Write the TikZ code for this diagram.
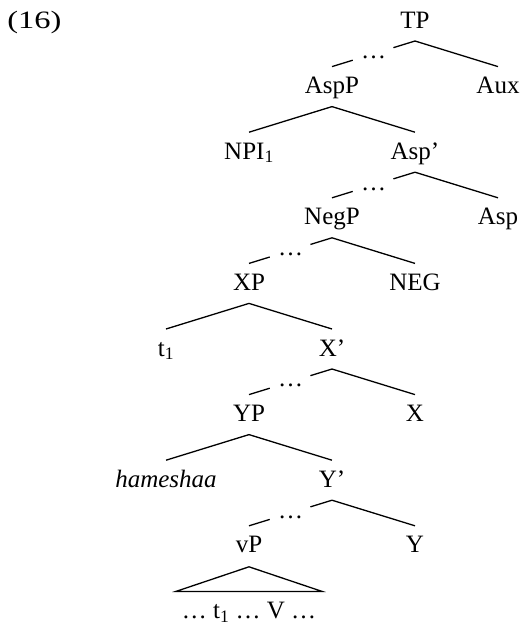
\documentclass[tikz,border=0pt]{standalone}
\usepackage{fontspec}
\setmainfont{Liberation Serif}
\usetikzlibrary{calc}
\newcommand\treebr[2]{%
  \draw[branch] ([yshift=-13pt]#1.base) -- ([yshift=27pt]#2.base);}
\newcommand\treedots[2]{%
  \path ([yshift=-13pt]#1.base) coordinate (#1-ap) ([yshift=27pt]#2.base) coordinate (#2-ft);
  \draw[branch] (#1-ap) -- ($(#1-ap)!0.26!(#2-ft)$);
  \draw[branch] ($(#1-ap)!0.75!(#2-ft)$) -- (#2-ft);
  \node[lbl,yshift=-5pt] (#1-dots) at ($(#1-ap)!0.5!(#2-ft)$) {\ldots};}
\begin{document}
\begin{tikzpicture}[x=1pt,y=-1pt,
  lbl/.style={anchor=base,inner sep=0pt,font=\fontsize{25}{30}\selectfont},
  branch/.style={line width=1.3pt}]
\useasboundingbox (0,0) rectangle (524,625);
\node[lbl,anchor=base west,xscale=1.3] (ex) at (7,28) {(16)};
\node[lbl] (tp) at (415,28) {TP};
\node[lbl] (aspp) at (332,93.6) {AspP};
\node[lbl] (aux) at (498,93.6) {Aux};
\node[lbl] (npi) at (249,159.2) {NPI\textsubscript{1}};
\node[lbl] (aspbar) at (415,159.2) {Asp’};
\node[lbl] (negp) at (332,224.8) {NegP};
\node[lbl] (asp) at (498,224.8) {Asp};
\node[lbl] (xp) at (249,290.4) {XP};
\node[lbl] (neg) at (415,290.4) {NEG};
\node[lbl] (t1) at (166,356) {t\textsubscript{1}};
\node[lbl] (xbar) at (332,356) {X’};
\node[lbl] (yp) at (249,421.6) {YP};
\node[lbl] (x) at (415,421.6) {X};
\node[lbl] (ham) at (166,487.2) {\itshape hameshaa};
\node[lbl] (ybar) at (332,487.2) {Y’};
\node[lbl] (vp) at (249,552.8) {vP};
\node[lbl] (y) at (415,552.8) {Y};
\node[lbl] (term) at (249,618.4) {\ldots{} t\textsubscript{1} \ldots{} V \ldots};
\treedots{tp}{aspp}
\treebr{tp}{aux}
\treebr{aspp}{npi}
\treebr{aspp}{aspbar}
\treedots{aspbar}{negp}
\treebr{aspbar}{asp}
\treedots{negp}{xp}
\treebr{negp}{neg}
\treebr{xp}{t1}
\treebr{xp}{xbar}
\treedots{xbar}{yp}
\treebr{xbar}{x}
\treebr{yp}{ham}
\treebr{yp}{ybar}
\treedots{ybar}{vp}
\treebr{ybar}{y}
\draw[branch,line join=miter] ([yshift=27pt,xshift=-73pt]term.base) -- ([yshift=-14pt]vp.base) -- ([yshift=27pt,xshift=73pt]term.base) -- cycle;
\end{tikzpicture}
\end{document}
